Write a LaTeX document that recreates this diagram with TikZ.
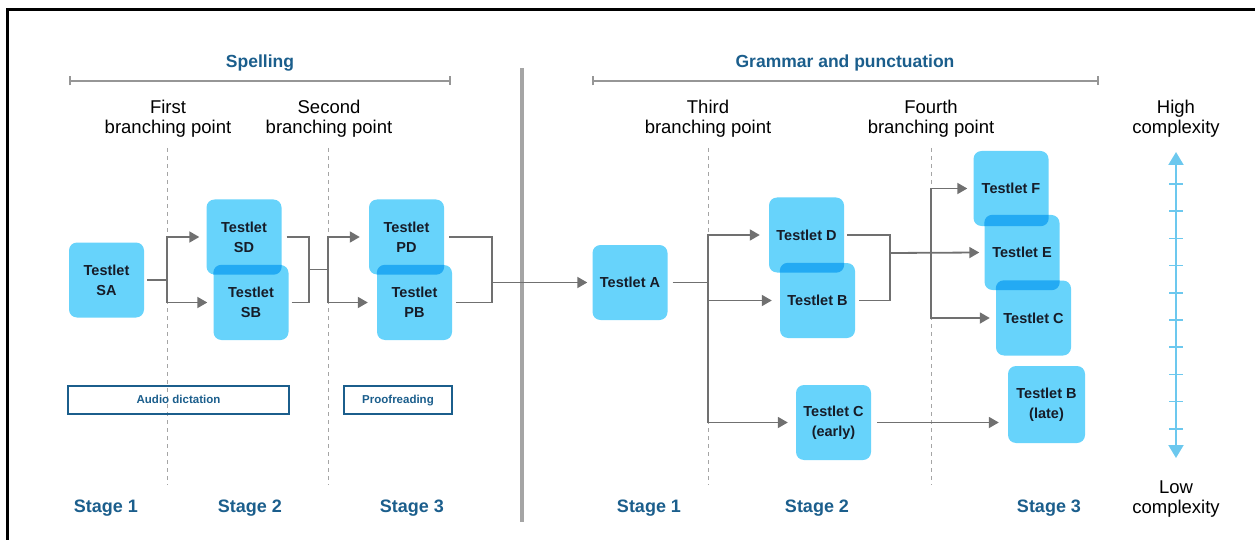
\documentclass[tikz,border=0pt]{standalone}
\usepackage{fontspec}
\setmainfont{Liberation Sans}
\usepackage{tikz}
\usetikzlibrary{arrows.meta, positioning}

\definecolor{titleblue}{RGB}{27,94,140}
\definecolor{boxblue}{RGB}{103,211,251}
\definecolor{overlapblue}{RGB}{35,170,243}
\definecolor{textdark}{RGB}{22,28,40}
\definecolor{linegray}{RGB}{112,112,112}
\definecolor{bracketgray}{RGB}{150,150,150}
\definecolor{sepgray}{RGB}{165,165,165}
\definecolor{guidegray}{RGB}{165,165,165}
\definecolor{scaleblue}{RGB}{108,200,238}

\newcommand{\boxoverlap}[2]{%
\begin{scope}
\clip[rounded corners=8pt] (#1.south west) rectangle (#1.north east);
\fill[overlapblue, rounded corners=8pt] (#2.south west) rectangle (#2.north east);
\end{scope}}

\begin{document}
\begin{tikzpicture}[x=1pt, y=-1pt,
  testlet/.style = {rectangle, rounded corners=8pt, fill=boxblue, minimum width=75pt, minimum height=75pt, inner sep=2pt, align=center, text=textdark, font=\fontsize{14.5}{20}\selectfont\bfseries},
  title/.style = {text=titleblue, font=\fontsize{17.5}{20}\selectfont\bfseries},
  stage/.style = {text=titleblue, font=\fontsize{18}{20}\selectfont\bfseries},
  branch/.style = {align=center, text=black, font=\fontsize{18.5}{20}\selectfont},
  taskbox/.style = {draw=titleblue, line width=2pt, minimum height=28pt, text height=9pt, text depth=2.5pt, text=titleblue, font=\fontsize{11.5}{14}\selectfont\bfseries},
  conn/.style = {draw=linegray, line width=1.8pt},
  arr/.style = {conn, -{Triangle[length=10pt, width=11pt]}},
  bracket/.style = {draw=bracketgray, line width=1.8pt, {Bar[width=9pt]}-{Bar[width=9pt]}},
  guide/.style = {draw=guidegray, line width=0.8pt, dash pattern=on 4pt off 4pt}]
\useasboundingbox (0,0) rectangle (1255,540);
\draw[line width=3pt] (7.5,541) |- (1256,10);

\node[title] (spelling) at (260,63) {Spelling};
\node[title] (grammar) at (845,63) {Grammar and punctuation};
\draw[bracket] (69,81) -- (451,81);
\draw[bracket] (592,81) -- (1099,81);
\draw[sepgray, line width=4pt] (522,68) -- (522,522);

\node[branch] (first) at (168,119) {First\\branching point};
\node[branch] (second) at (329,119) {Second\\branching point};
\node[branch] (third) at (708,119) {Third\\branching point};
\node[branch] (fourth) at (931,119) {Fourth\\branching point};
\node[branch] (high) at (1176,119) {High\\complexity};
\node[branch] (low) at (1176,499) {Low\\complexity};

\foreach \x in {167,328,708,931}
  \draw[guide] (\x,148) -- (\x,485);

\node[testlet] (sa) at (106.5,280) {Testlet\\SA};
\node[testlet] (sd) at (244,237) {Testlet\\SD};
\node[testlet] (sb) at (251,302.5) {Testlet\\SB};
\node[testlet] (pd) at (406.5,237) {Testlet\\PD};
\node[testlet] (pb) at (414.5,302.5) {Testlet\\PB};
\node[testlet] (ta) at (630,282.5) {Testlet A};
\node[testlet] (td) at (806.5,235) {Testlet D};
\node[testlet] (tb) at (817.5,300.5) {Testlet B};
\node[testlet] (tf) at (1011,188.5) {Testlet F};
\node[testlet] (te) at (1022,252.5) {Testlet E};
\node[testlet] (tc) at (1033.5,318) {Testlet C};
\node[testlet] (tce) at (833.5,422.5) {Testlet C\\(early)};
\node[testlet, minimum width=77pt, minimum height=77pt] (tbl) at (1046.5,404.5) {Testlet B\\(late)};
\boxoverlap{sd}{sb}
\boxoverlap{pd}{pb}
\boxoverlap{td}{tb}
\boxoverlap{tf}{te}
\boxoverlap{te}{tc}

\node[taskbox, minimum width=221pt] (audio) at (178.5,400) {Audio dictation};
\node[taskbox, minimum width=108pt] (proof) at (398,400) {Proofreading};

\coordinate (bp1) at (167,280);
\coordinate (j1) at (309,269.5);
\coordinate (bp2) at (328,269.5);
\coordinate (j2) at (492,282.5);
\coordinate (bp3) at (708,282.5);
\coordinate (j3) at (890,253);
\coordinate (bp4) at (931,253);
\coordinate (tblin) at (tbl.west |- tce.east);

\draw[conn] ([xshift=3pt]sa.east) -- (bp1);
\draw[arr] (bp1) |- ([xshift=-7pt]sd.west);
\draw[arr] (bp1) |- ([xshift=-6pt]sb.west);
\draw[conn] ([xshift=5pt]sd.east) -| (j1);
\draw[conn] ([xshift=3pt]sb.east) -| (j1);
\draw[conn] (j1) -- (bp2);
\draw[arr] (bp2) |- ([xshift=-9pt]pd.west);
\draw[arr] (bp2) |- ([xshift=-9pt]pb.west);
\draw[conn] ([xshift=5pt]pd.east) -| (j2);
\draw[conn] ([xshift=4pt]pb.east) -| (j2);
\draw[arr] (j2) -- ([xshift=-5pt]ta.west);

\draw[conn] ([xshift=5pt]ta.east) -- (bp3);
\draw[arr] (bp3) |- ([xshift=-9pt]td.west);
\draw[arr] (bp3) |- ([xshift=-8pt]tb.west);
\draw[arr] (bp3) |- ([xshift=-8pt]tce.west);
\draw[conn] ([xshift=3pt]td.east) -| (j3);
\draw[conn] ([xshift=4pt]tb.east) -| (j3);
\draw[arr] (j3) -- ([xshift=-5pt]te.west);
\draw[arr] (bp4) |- ([xshift=-6pt]tf.west);
\draw[arr] (bp4) |- ([xshift=-6pt]tc.west);
\draw[arr] ([xshift=6pt]tce.east) -- ([xshift=-9pt]tblin);

\draw[scaleblue, line width=2pt, {Triangle[length=13pt, width=15pt]}-{Triangle[length=13pt, width=15pt]}] (1176,152) -- (1176,458);
\foreach \i in {0,...,9}
  \draw[scaleblue, line width=1.5pt] (1169,184+\i*27.2) -- (1183,184+\i*27.2);

\node[stage] (s1) at (106,508) {Stage 1};
\node[stage] (s2) at (250,508) {Stage 2};
\node[stage] (s3) at (412,508) {Stage 3};
\node[stage] (g1) at (649,508) {Stage 1};
\node[stage] (g2) at (817,508) {Stage 2};
\node[stage] (g3) at (1049,508) {Stage 3};
\end{tikzpicture}
\end{document}
